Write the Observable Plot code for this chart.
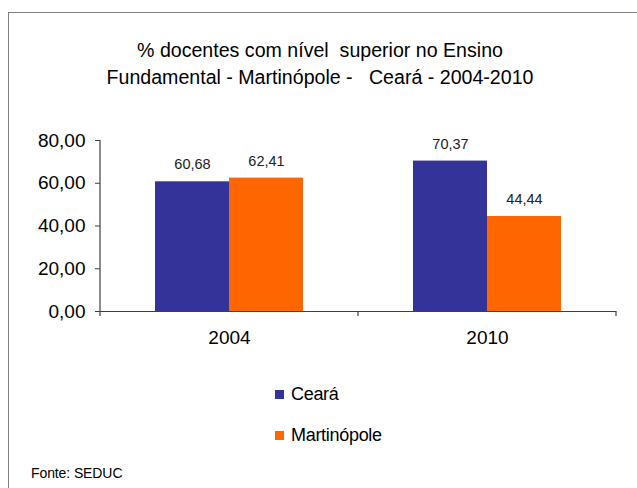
<!DOCTYPE html>
<html><head><meta charset="utf-8">
<script src="https://cdn.jsdelivr.net/npm/d3@7"></script>
<script src="https://cdn.jsdelivr.net/npm/@observablehq/plot@0.6"></script>
<style>
html,body{margin:0;padding:0;background:#fff;width:637px;height:488px;overflow:hidden;font-family:"Liberation Sans",Arial,sans-serif;color:#000;}
#frame{position:absolute;left:8px;top:12px;width:700px;height:600px;border-left:1px solid #808080;border-top:1px solid #808080;}
#title{position:absolute;left:0;width:640px;top:37px;text-align:center;font-size:19.6px;line-height:27px;white-space:pre;}
#chart{position:absolute;left:0;top:120px;}
.leg{position:absolute;left:275px;height:20px;line-height:20px;font-size:18px;letter-spacing:-0.3px;white-space:nowrap;}
.leg span.sw{display:inline-block;width:9px;height:9px;margin-right:7px;vertical-align:middle;position:relative;top:-1px;}
#src{position:absolute;left:31px;top:465px;font-size:14px;line-height:16px;letter-spacing:-0.1px;}
</style>
</head><body>
<div id="frame"></div>
<div id="title"></div>
<div id="chart"></div>
<div id="legend"></div>
<div id="src"></div>
<script>
const titleLines = ["% docentes com nível  superior no Ensino", "Fundamental - Martinópole -   Ceará - 2004-2010"];
const years = ["2004", "2010"];
const series = ["Ceará", "Martinópole"];
const ceara = [60.68, 70.37];
const martinopole = [62.41, 44.44];
const yTicks = [0, 20, 40, 60, 80];
const colors = ["#333399", "#FF6600"];
const source = "Fonte: SEDUC";

document.getElementById("title").textContent = titleLines.join("\n");
document.getElementById("src").textContent = source;

const data = years.flatMap((yr, i) => [
  {year: yr, series: series[0], value: ceara[i]},
  {year: yr, series: series[1], value: martinopole[i]}
]);
const fmt = d => d.toFixed(2).replace(".", ",");

const chart = Plot.plot({
  width: 637, height: 230,
  marginLeft: 100, marginRight: 21, marginTop: 20, marginBottom: 39,
  style: {fontFamily: "'Liberation Sans', Arial, sans-serif", background: "transparent", overflow: "visible"},
  fx: {domain: years, padding: 0, label: null, axis: null},
  x: {domain: series, paddingInner: 0, paddingOuter: 0.7315, axis: null},
  y: {domain: [0, 80], axis: null},
  color: {domain: series, range: colors},
  marks: [
    Plot.barY(data, {fx: "year", x: "series", y: "value", fill: "series"}),
    Plot.ruleY([0], {stroke: "#404040", strokeWidth: 1.2}),
    Plot.axisY({ticks: yTicks, tickFormat: fmt, tickSize: 5, tickPadding: 10, fontSize: 19, color: "#000", stroke: "#404040", label: null}),
    Plot.axisFx({anchor: "bottom", tickSize: 0, tickPadding: 19, fontSize: 19, color: "#000", label: null}),
    Plot.text(data, {fx: "year", x: "series", y: "value", text: d => fmt(d.value), dy: -17, fontSize: 14.5, fill: "#222"})
  ]
});
document.getElementById("chart").appendChild(chart);

// axis line and category boundary ticks, positioned from Plot's own scales
const fx = chart.scale("fx"), y = chart.scale("y");
const y0 = y.apply(0), yTop = y.apply(80);
const svg = d3.select(chart);
const g = svg.append("g").attr("stroke", "#404040").attr("stroke-width", 1.2);
const left = fx.apply(years[0]);
g.append("line").attr("x1", left).attr("x2", left).attr("y1", yTop).attr("y2", y0 + 5);
years.forEach(yr => {
  const r = fx.apply(yr) + fx.bandwidth;
  g.append("line").attr("x1", r).attr("x2", r).attr("y1", y0).attr("y2", y0 + 5);
});

const legend = document.getElementById("legend");
const legTops = [384, 425];
series.forEach((s, i) => {
  const d = document.createElement("div");
  d.className = "leg";
  d.style.top = legTops[i] + "px";
  d.innerHTML = `<span class="sw" style="background:${colors[i]}"></span>`;
  d.appendChild(document.createTextNode(s));
  legend.appendChild(d);
});
</script>
</body></html>
